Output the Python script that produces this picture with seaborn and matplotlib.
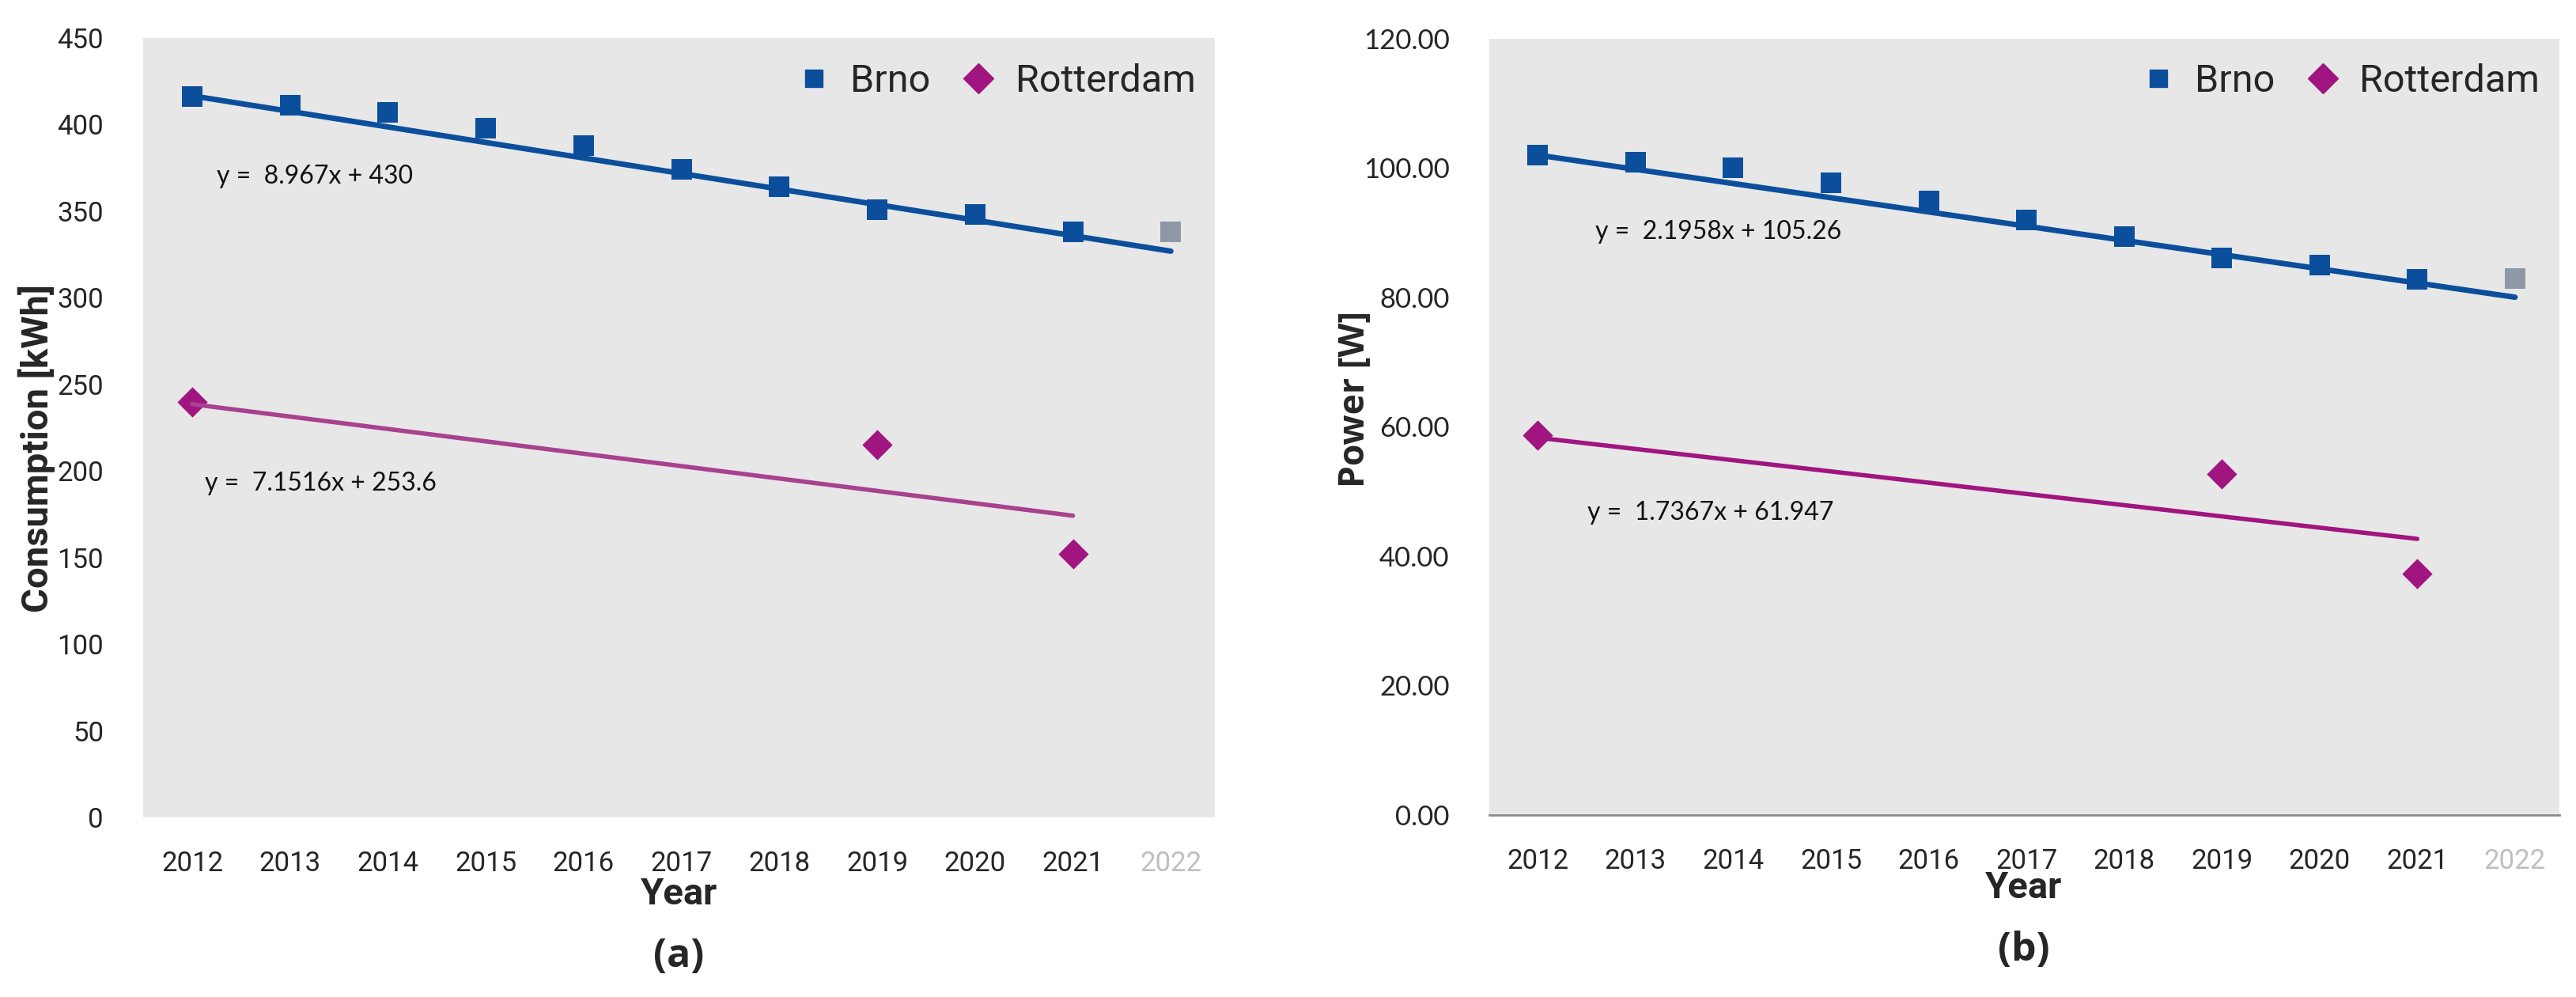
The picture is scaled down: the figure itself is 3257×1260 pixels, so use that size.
# Brno / Rotterdam consumption and power trends, panels (a) and (b)
import numpy as np
import pandas as pd
import matplotlib.pyplot as plt
import seaborn as sns
from matplotlib.lines import Line2D

# data
years = ['2012', '2013', '2014', '2015', '2016', '2017', '2018', '2019', '2020', '2021', '2022']
brno_years = ['2012', '2013', '2014', '2015', '2016', '2017', '2018', '2019', '2020', '2021']
rot_years = ['2012', '2019', '2021']
forecast_year = '2022'

brno_kwh = [416, 411, 407, 398, 388, 374, 364, 351, 348, 338]
brno_kwh_forecast = 338
rot_kwh = [240, 215, 152]

brno_w = [102.0, 100.9, 100.0, 97.7, 94.9, 91.9, 89.4, 86.1, 85.0, 82.8]
brno_w_forecast = 82.9
rot_w = [58.7, 52.7, 37.3]

# trendline equations as printed (slope, intercept)
brno_kwh_fit = (-8.967, 430)
rot_kwh_fit = (-7.1516, 253.6)
brno_w_fit = (-2.1958, 105.26)
rot_w_fit = (-1.7367, 61.947)
brno_kwh_eq = 'y =  8.967x + 430'
rot_kwh_eq = 'y =  7.1516x + 253.6'
brno_w_eq = 'y =  2.1958x + 105.26'
rot_w_eq = 'y =  1.7367x + 61.947'

BLUE = '#0B4F9C'
MAGENTA = '#A0157F'
MAGENTA_LIGHT = '#A8418F'
GREY_PT = '#8D9AA6'
BG = '#E7E7E7'

sns.set_style('white')
plt.rcParams['font.family'] = ['Roboto', 'DejaVu Sans']

pos = {y: i for i, y in enumerate(years)}


def trend(fit, yrs, offset):
    x = np.array([pos[y] for y in yrs])
    return x, fit[1] + fit[0] * (x + offset)


def panel(ax, brno, brno_fc, rot, bfit, rfit, beq, req, ylim, yticks, fmt,
          tick_font, eq_pos, rot_line_color, rot_line_on_top, bottom_spine):
    ax.set_facecolor(BG)
    df_b = pd.DataFrame({'x': [pos[y] for y in brno_years], 'v': brno})
    df_r = pd.DataFrame({'x': [pos[y] for y in rot_years], 'v': rot})

    # trendlines
    bx, by = trend(bfit, years, 1.5)
    sns.lineplot(x=bx, y=by, color=BLUE, lw=5, ax=ax, zorder=2,
                 solid_capstyle='round')
    rx, ry = trend(rfit, years[:10], 2.1)
    sns.lineplot(x=rx, y=ry, color=rot_line_color, lw=4, ax=ax,
                 zorder=4 if rot_line_on_top else 2, solid_capstyle='round')

    sns.scatterplot(data=df_b, x='x', y='v', marker='s', s=360, color=BLUE,
                    linewidth=0, ax=ax, zorder=3)
    sns.scatterplot(x=[pos[forecast_year]], y=[brno_fc], marker='s', s=330,
                    color=GREY_PT, linewidth=0, ax=ax, zorder=3)
    sns.scatterplot(data=df_r, x='x', y='v', marker='D', s=380, color=MAGENTA,
                    linewidth=0, ax=ax, zorder=3)

    ax.set_xlim(-0.5, 10.45)
    ax.set_ylim(*ylim)
    ax.set_xticks(range(len(years)))
    ax.set_xticklabels(years, fontsize=25, family=['Roboto', 'DejaVu Sans'])
    ax.get_xticklabels()[-1].set_color('#BFBFBF')
    ax.set_yticks(yticks)
    ax.set_yticklabels([fmt.format(t) for t in yticks], fontsize=25,
                       family=tick_font)
    ax.tick_params(axis='both', length=0)
    ax.tick_params(axis='y', pad=36)
    ax.tick_params(axis='x', pad=30)
    for side in ['top', 'right', 'left']:
        ax.spines[side].set_visible(False)
    if bottom_spine:
        ax.spines['bottom'].set_color('#8A8A8A')
        ax.spines['bottom'].set_linewidth(2)
    else:
        ax.spines['bottom'].set_visible(False)
    ax.grid(False)

    (bxp, byp), (rxp, ryp) = eq_pos
    for x, y, t in [(bxp, byp, beq), (rxp, ryp, req)]:
        ax.text(x, y, t, fontsize=23, ha='left', va='center',
                family=['Lato', 'DejaVu Sans'], color='#111111', zorder=5)

    handles = [
        Line2D([], [], marker='s', ls='none', color=BLUE, markersize=16),
        Line2D([], [], marker='D', ls='none', color=MAGENTA, markersize=19.5),
    ]
    ax.legend(handles, ['Brno', 'Rotterdam'], ncol=2, frameon=False,
              loc='center right', bbox_to_anchor=(0.982, 0.944),
              borderaxespad=0, borderpad=0, fontsize=35, handlelength=0.8,
              handletextpad=0.55, columnspacing=0.85)


fig = plt.figure(figsize=(32.57, 12.60), dpi=100)
ax1 = fig.add_axes([0.0556, 0.180, 0.416, 0.782])
ax2 = fig.add_axes([0.578, 0.1825, 0.4154, 0.779])

panel(ax1, brno_kwh, brno_kwh_forecast, rot_kwh, brno_kwh_fit, rot_kwh_fit,
      brno_kwh_eq, rot_kwh_eq, (0, 450), list(range(0, 451, 50)), '{:d}',
      ['Roboto', 'DejaVu Sans'], ((0.25, 370), (0.13, 193)),
      MAGENTA_LIGHT, True, False)
panel(ax2, brno_w, brno_w_forecast, rot_w, brno_w_fit, rot_w_fit,
      brno_w_eq, rot_w_eq, (0, 120), list(range(0, 121, 20)), '{:.2f}',
      ['Lato', 'DejaVu Sans'], ((0.59, 90.1), (0.51, 46.7)),
      MAGENTA, False, True)

ax1.set_ylabel('Consumption [kWh]', fontsize=34, fontweight='bold',
               family=['Roboto', 'DejaVu Sans'], va='center')
ax1.yaxis.set_label_coords(-0.0996, 0.474)
ax2.set_ylabel('Power [W]', fontsize=32, fontweight='bold',
               family=['Open Sans', 'DejaVu Sans'], va='center')
ax2.yaxis.set_label_coords(-0.125, 0.535)

for ax, yc, lab in [(ax1, -0.0985, '(a)'), (ax2, -0.0937, '(b)')]:
    ax.set_xlabel('Year', fontsize=34, fontweight='bold',
                  family=['Roboto', 'DejaVu Sans'])
    ax.xaxis.label.set_va('center')
    ax.xaxis.set_label_coords(0.5, yc)
    ax.text(0.5, yc - 0.08, lab, transform=ax.transAxes, ha='center',
            va='center', fontsize=36, fontweight='bold',
            family=['Open Sans', 'DejaVu Sans'])

fig.savefig('out.png', dpi=100, facecolor='white')
